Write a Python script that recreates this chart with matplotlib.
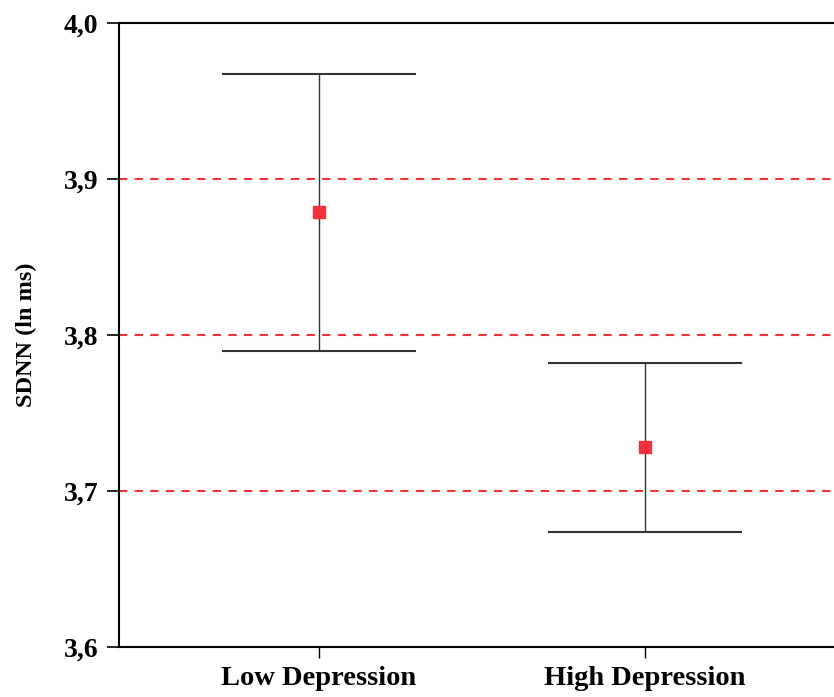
import matplotlib
matplotlib.use("Agg")
import matplotlib.pyplot as plt

# group means and 95% CI bounds (SDNN, ln ms)
groups = ["Low Depression", "High Depression"]
means = [3.879, 3.728]
ci_low = [3.790, 3.674]
ci_high = [3.967, 3.782]
ref_lines = [3.7, 3.8, 3.9]
y_ticks = [3.6, 3.7, 3.8, 3.9, 4.0]

plt.rcParams['font.family'] = ['Liberation Serif', 'DejaVu Serif']

fig = plt.figure(figsize=(8.34, 6.97), dpi=100)
ax = fig.add_axes([0.1427, 0.0717, 0.8573, 0.8953])

x = list(range(len(groups)))
yerr = [[m - lo for m, lo in zip(means, ci_low)],
        [hi - m for m, hi in zip(means, ci_high)]]

for y in ref_lines:
    ax.axhline(y, color='#f0323c', lw=1.5, ls=(0, (4, 3.5)), zorder=1)

ax.errorbar(x, means, yerr=yerr, fmt='none', ecolor='#333333',
            elinewidth=1.0, capsize=70, capthick=1.5, zorder=2)
ax.plot(x, means, 's', color='#f0323c', ms=8.5, zorder=3)

ax.set_xlim(-0.613, 1.58)
ax.set_ylim(3.6, 4.0)
ax.set_xticks(x)
ax.set_xticklabels(groups, fontsize=20.5, fontweight='bold')
ax.set_yticks(y_ticks)
ax.set_yticklabels([f"{v:.1f}".replace('.', ',') for v in y_ticks],
                   fontsize=20, fontweight='bold')
ax.tick_params(axis='y', length=9, width=1.2, pad=6)
ax.tick_params(axis='x', length=8, width=1.0, pad=6)

ax.spines['right'].set_visible(False)
for s in ['left', 'top', 'bottom']:
    ax.spines[s].set_linewidth(1.5)

ax.set_ylabel("SDNN (ln ms)", fontsize=17.5, fontweight='bold', labelpad=19)

fig.savefig("out.png", dpi=100)
